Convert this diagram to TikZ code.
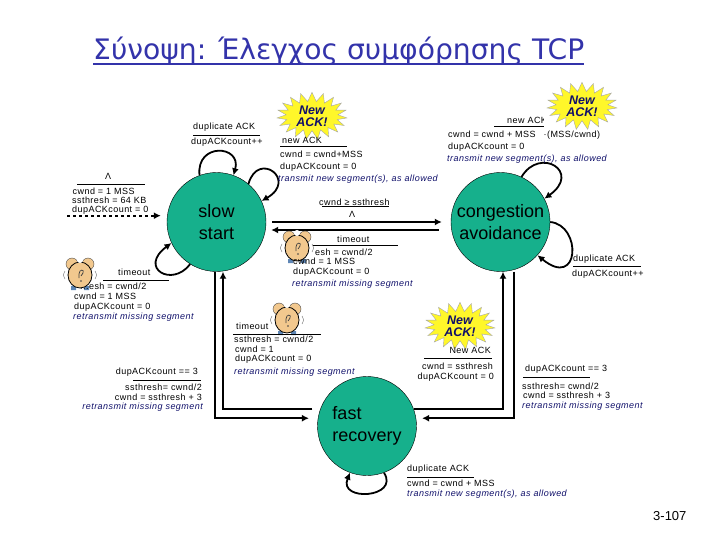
\documentclass[tikz,border=0pt]{standalone}
\usepackage{fontspec}
\setmainfont{Liberation Sans}
\newfontfamily\titlefont{DejaVu Sans}
\newfontfamily\labelfont[LetterSpace=5]{Liberation Sans}
\usetikzlibrary{arrows.meta,positioning,calc,shapes.symbols}
\definecolor{StateTeal}{HTML}{16B08C}
\definecolor{TitleBlue}{HTML}{3333AA}
\definecolor{ActionNavy}{HTML}{10106A}
\definecolor{BurstYellow}{HTML}{FFF72A}
\definecolor{ClockTan}{HTML}{F2C88E}
\definecolor{ClockSteel}{HTML}{5E86B5}
\tikzset{
  state/.style={circle,draw=black,fill=StateTeal,minimum size=99pt,inner sep=0pt,align=center,font=\fontsize{18}{21.5}\selectfont},
  lbl/.style={anchor=west,inner sep=0pt,font=\labelfont\fontsize{9}{11}\selectfont},
  lblr/.style={lbl,anchor=east},
  act/.style={lbl,text=ActionNavy,font=\labelfont\fontsize{9}{11}\selectfont\itshape},
  actr/.style={act,anchor=east},
  rulebar/.style={draw=black,line width=.7pt},
  conn/.style={draw=black,line width=1.8pt,-{Latex[length=7pt,width=7pt]}},
  burst/.style={starburst,starburst points=19,starburst point height=9pt,random starburst=0,draw=gray!70,fill=BurstYellow,minimum width=70pt,minimum height=36pt,inner sep=0pt,align=center,text=ActionNavy,font=\fontsize{12.5}{12}\selectfont\bfseries\itshape},
  clock/.pic={
    \draw[gray,line width=.5pt] (-15,-4) .. controls (-17,0) .. (-15,4) (15,-4) .. controls (17,0) .. (15,4);
    \filldraw[draw=black!70,fill=ClockTan,line width=.4pt] (-8,-11) circle (6pt) (8,-11) circle (6pt);
    \fill[ClockSteel] (-9,11) rectangle (-4,15) (4,11) rectangle (9,15);
    \filldraw[draw=black,fill=ClockTan,line width=.8pt] (0,0) ellipse (12pt and 13pt);
    \fill[white] (0,-15) circle (3pt);
    \draw[black!75,line width=.7pt] (-1,3) -- (-1,-1) .. controls (-1,-6) and (5,-6) .. (3,-2) -- (1,1) (1,6) circle (.4pt);
  }
}
\begin{document}
\begin{tikzpicture}[x=1pt,y=-1pt]
\useasboundingbox (0,0) rectangle (720,540);
\node[anchor=base west,inner sep=0pt,text=TitleBlue,font=\titlefont\fontsize{28.2}{30}\selectfont] (title) at (93,60) {Σύνοψη: Έλεγχος συμφόρησης TCP};
\draw[TitleBlue,line width=1.4pt] ([yshift=-4pt]title.base west) -- ([yshift=-4pt]title.base east);

\node[state] (slow) at (216.5,222) {slow\\start};
\node[state] (cong) at (500.5,222) {congestion\\avoidance};
\node[state,align=left] (fast) at (367,426) {fast\\recovery};

\coordinate (entry) at (67,215.7);
\draw[conn,dashed,shorten >=6pt] (entry) -- (slow.west |- entry);
\draw[conn] (slow.110) .. controls (196,142) and (242,145) .. (slow.70);
\draw[conn] (slow.50) .. controls (258,150) and (298,180) .. (slow.25);
\draw[conn] (slow.238) .. controls (172,288) and (138,268) .. (slow.205);
\draw[conn,shorten >=9pt,shorten <=6pt] (slow.east) -- (cong.west);
\draw[conn,shorten >=5pt,shorten <=12pt] ([yshift=-8pt]cong.west) -- ([yshift=-8pt]slow.east);
\draw[conn] (cong.65) .. controls (540,146) and (582,172) .. (cong.28);
\draw[conn] (cong.east) .. controls (582,225) and (580,290) .. (cong.-42);
\draw[conn] ([xshift=-1.5pt]slow.south) |- ([xshift=-9pt]fast.171);
\draw[conn,shorten <=8pt] (fast.160) -| ([xshift=6.5pt]slow.south);
\draw[conn] (fast.20) -| ([xshift=2.5pt]cong.south);
\draw[conn,shorten >=6pt] ([xshift=13.5pt]cong.south) |- (fast.9);
\draw[conn] (fast.-70) .. controls (400,498) and (338,502) .. (fast.-110);

\node[lbl] (dupa) at (193,126.7) {duplicate ACK};
\draw[rulebar] (193,135) -- (260,135);
\node[lbl] (dupb) at (191,142) {dupACKcount++};

\node[burst] (burstA) at (312,116) {New\\ACK!};
\node[lbl] (newa) at (282,140) {new ACK};
\draw[rulebar] (280,146.7) -- (347,146.7);
\node[lbl] (newb) at (280,154.3) {cwnd = cwnd+MSS};
\node[lbl] (newc) at (280,166.7) {dupACKcount = 0};
\node[act] (newd) at (278,178.7) {transmit new segment(s), as allowed};

\node[lbl] (inita) at (105,176.7) {Λ};
\draw[rulebar] (77,184) -- (145,184);
\node[lbl] (initb) at (72.5,191) {cwnd = 1 MSS};
\node[lbl] (initc) at (72,200.7) {ssthresh = 64 KB};
\node[lbl] (initd) at (72,210) {dupACKcount = 0};

\node[lbl] (upa) at (319,202) {cwnd ≥ ssthresh};
\draw[rulebar] (322,206.7) -- (389,206.7);
\node[lbl] (upb) at (349,214) {Λ};

\pic at (297,248) {clock};
\node[lbl] (tca) at (337,239) {timeout};
\draw[rulebar] (313,245) -- (398,245);
\node[lbl] (tcb) at (315,252) {esh = cwnd/2};
\node[lbl] (tcc) at (293,261.7) {cwnd = 1 MSS};
\node[lbl] (tcd) at (293,271.7) {dupACKcount = 0};
\node[act] (tce) at (292,283.7) {retransmit missing segment};

\pic at (80,275) {clock};
\node[lbl] (tsa) at (118,272.7) {timeout};
\draw[rulebar] (103,280.7) -- (169,280.7);
\node[lbl] (tsb) at (80,286.7) {...esh = cwnd/2};
\node[lbl] (tsc) at (74,296.7) {cwnd = 1 MSS};
\node[lbl] (tsd) at (74,306.7) {dupACKcount = 0};
\node[act] (tse) at (73,316.7) {retransmit missing segment};

\node[lbl] (cna) at (507,120.7) {new ACK};
\draw[rulebar] (494,126) -- (544,126);
\fill[white] (543.5,112) rectangle (552,124);
\node[burst] (burstB) at (582,106) {New\\ACK!};
\node[lbl] (cnb) at (448,135) {cwnd = cwnd + MSS\hspace{8pt}·(MSS/cwnd)};
\node[lbl] (cnc) at (448,146.7) {dupACKcount = 0};
\node[act] (cnd) at (447,158.7) {transmit new segment(s), as allowed};

\node[lbl] (cda) at (573,258.7) {duplicate ACK};
\draw[rulebar] (573,266.7) -- (641,266.7);
\node[lbl] (cdb) at (572,274) {dupACKcount++};

\node[lblr] (fla) at (198,371.7) {dupACKcount == 3};
\draw[rulebar] (133,380) -- (201,380);
\node[lblr] (flb) at (202,387) {ssthresh= cwnd/2};
\node[lblr] (flc) at (202,397.3) {cwnd = ssthresh + 3};
\node[actr] (fld) at (203,406.7) {retransmit missing segment};

\pic at (287,320) {clock};
\node[lbl] (tfa) at (236,326.7) {timeout};
\draw[rulebar] (233,334) -- (321,334);
\node[lbl] (tfb) at (234,339.3) {ssthresh = cwnd/2};
\node[lbl] (tfc) at (235,349.3) {cwnd = 1};
\node[lbl] (tfd) at (235,359.3) {dupACKcount = 0};
\node[act] (tfe) at (234,372) {retransmit missing segment};

\node[burst] (burstC) at (460,326) {New\\ACK!};
\node[lblr] (fna) at (491,350.7) {New ACK};
\draw[rulebar] (424,358) -- (492,358);
\node[lblr] (fnb) at (493,366.7) {cwnd = ssthresh};
\node[lblr] (fnc) at (494,376.7) {dupACKcount = 0};

\node[lbl] (cfa) at (525,368.7) {dupACKcount == 3};
\draw[rulebar] (523,377.3) -- (590,377.3);
\node[lbl] (cfb) at (522,386.7) {ssthresh= cwnd/2};
\node[lbl] (cfc) at (523,395.7) {cwnd = ssthresh + 3};
\node[act] (cfd) at (522,405.7) {retransmit missing segment};

\node[lbl] (fda) at (407,468.7) {duplicate ACK};
\draw[rulebar] (407,477.3) -- (474,477.3);
\node[lbl] (fdb) at (407,483.3) {cwnd = cwnd + MSS};
\node[act] (fdc) at (407,494) {transmit new segment(s), as allowed};

\node[lbl,font=\fontsize{13}{15}\selectfont] (pagenum) at (653,516) {3-107};
\end{tikzpicture}
\end{document}
